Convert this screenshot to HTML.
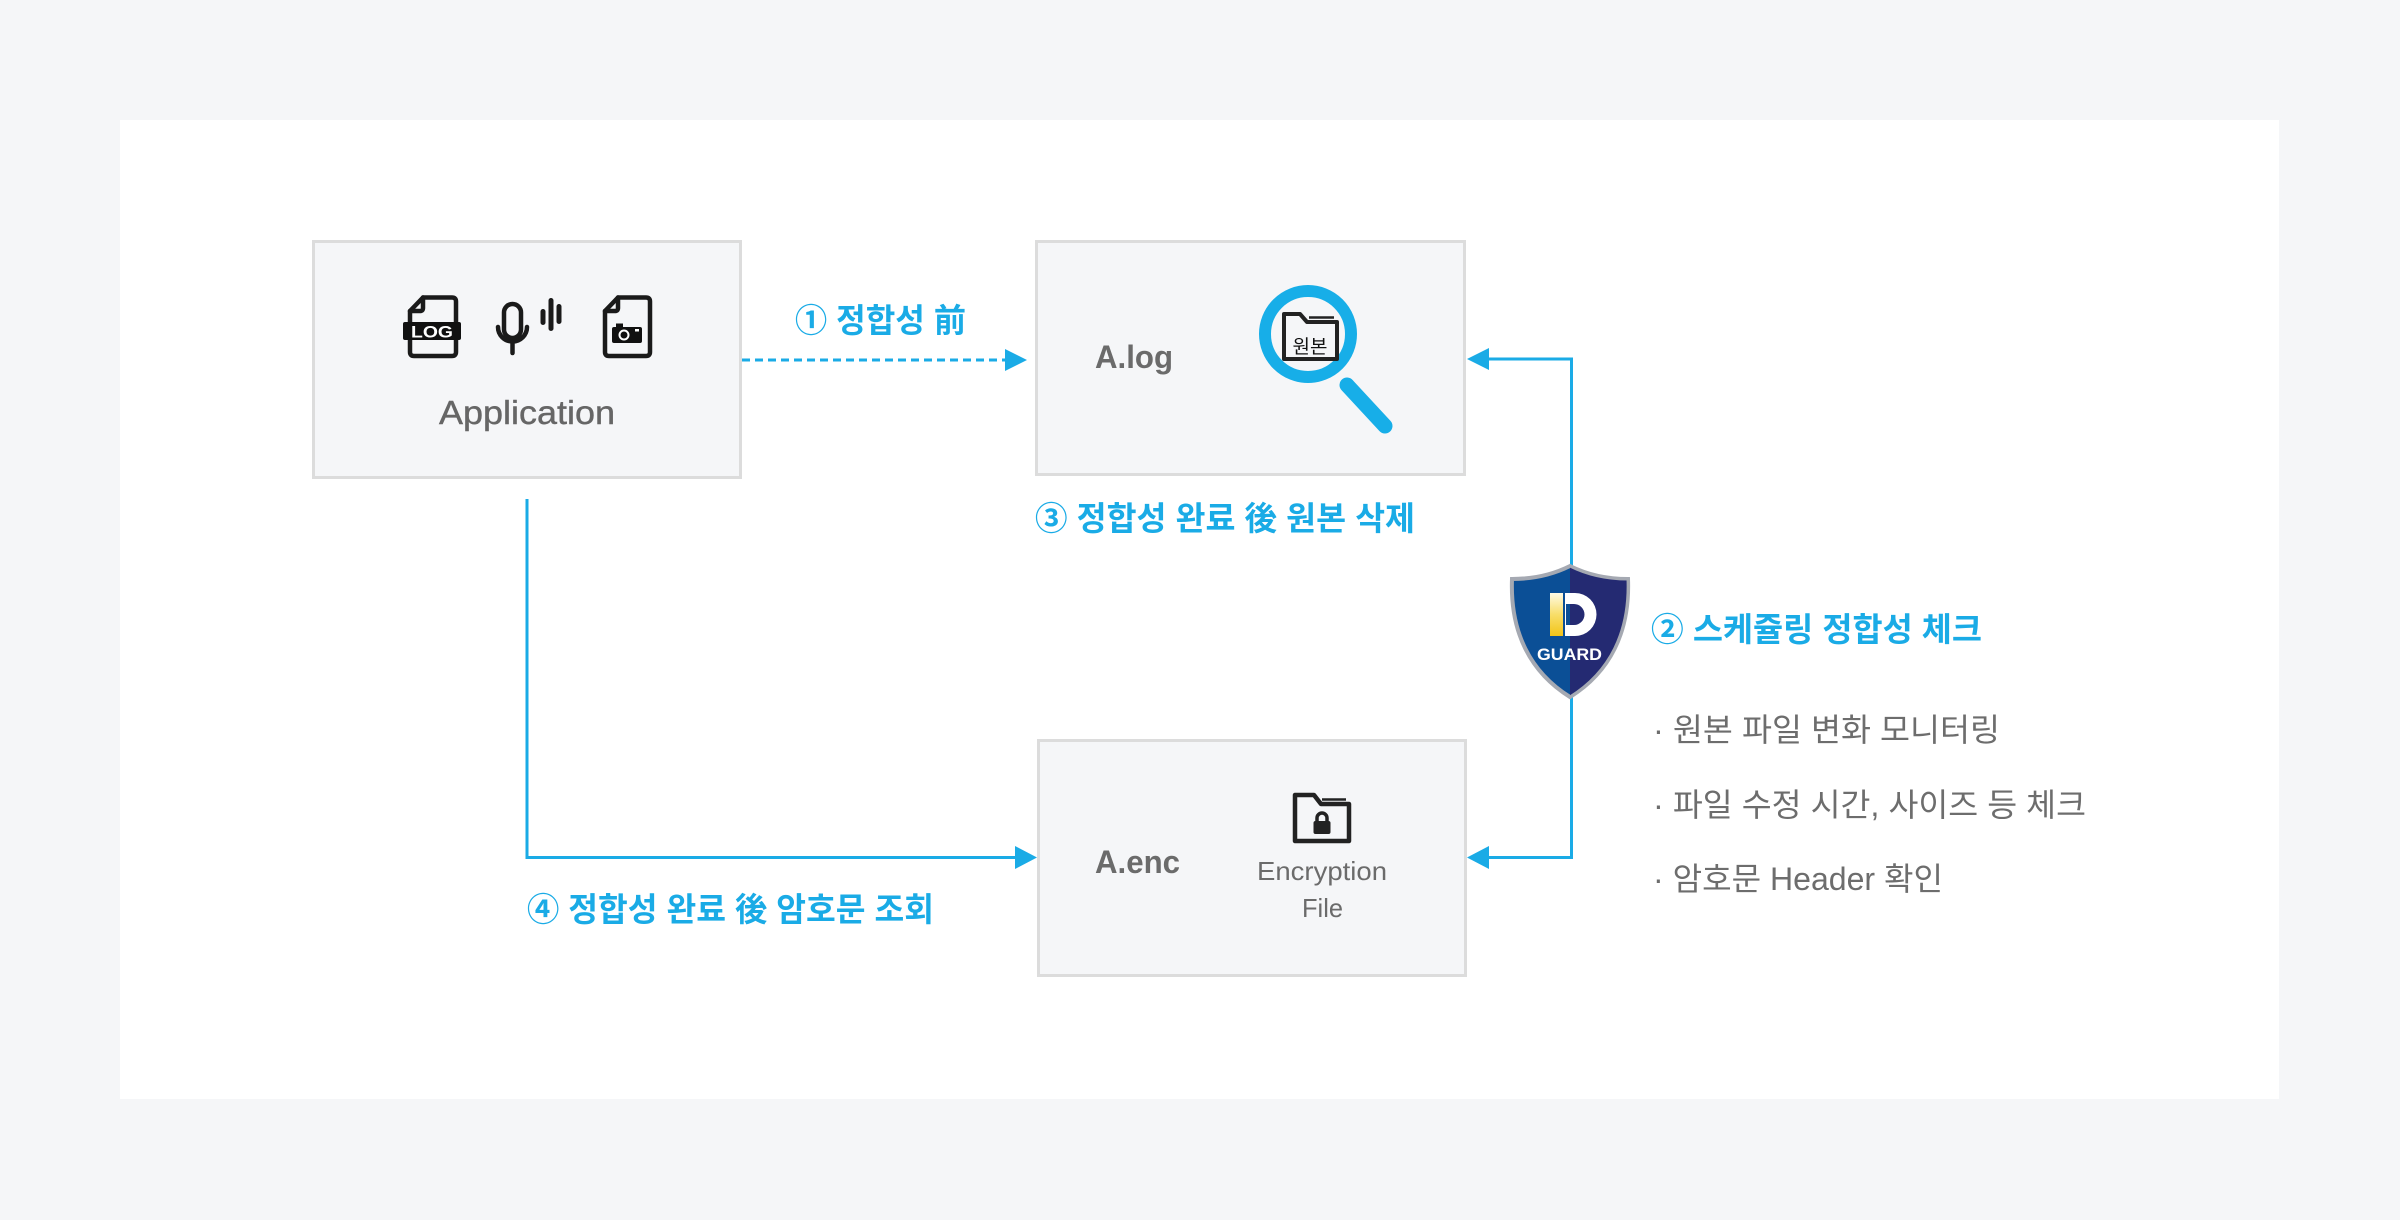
<!DOCTYPE html>
<html><head><meta charset="utf-8"><style>
html,body{margin:0;padding:0;background:#f5f6f8;}
svg{display:block;}
</style></head><body>
<svg width="2400" height="1220" viewBox="0 0 2400 1220" xmlns="http://www.w3.org/2000/svg">
<defs>
<linearGradient id="yg" x1="0" y1="0" x2="0" y2="1">
<stop offset="0" stop-color="#fffbe6"/><stop offset="0.5" stop-color="#f8de6a"/><stop offset="1" stop-color="#f2c418"/>
</linearGradient>
<clipPath id="shc"><path d="M1570,566 C1590,576 1610,579 1628,579 C1630,632 1610,672 1570,697 C1530,672 1510,632 1512,579 C1530,579 1550,576 1570,566Z"/></clipPath>
</defs>
<rect x="0" y="0" width="2400" height="1220" fill="#f5f6f8"/>
<rect x="120" y="120" width="2159" height="979" fill="#ffffff"/>

<!-- boxes -->
<rect x="313.5" y="241.5" width="427" height="236" fill="#f5f6f8" stroke="#dcdcdc" stroke-width="3"/>
<rect x="1036.5" y="241.5" width="428" height="233" fill="#f5f6f8" stroke="#dcdcdc" stroke-width="3"/>
<rect x="1038.5" y="740.5" width="427" height="235" fill="#f5f6f8" stroke="#dcdcdc" stroke-width="3"/>

<!-- connectors -->
<line x1="742" y1="360" x2="1008" y2="360" stroke="#1aabe6" stroke-width="3" stroke-dasharray="8 5"/>
<polygon points="1005,349 1027,360 1005,371" fill="#1aabe6"/>
<polyline points="527,499 527,857.5 1018,857.5" fill="none" stroke="#1aabe6" stroke-width="3"/>
<polygon points="1015,846 1037,857.5 1015,869" fill="#1aabe6"/>
<polyline points="1488,359 1571.5,359 1571.5,857.5 1488,857.5" fill="none" stroke="#1aabe6" stroke-width="3"/>
<polygon points="1489,348 1467,359 1489,370" fill="#1aabe6"/>
<polygon points="1489,846 1467,857.5 1489,869" fill="#1aabe6"/>

<!-- app icons -->
<g fill="none" stroke="#1a1a1a" stroke-width="4.5" stroke-linejoin="round" stroke-linecap="round">
<path d="M423,297.5 H452 Q456,297.5 456,301.5 V352 Q456,356 452,356 H414 Q410,356 410,352 V311 Z"/>
<path d="M410,311 H420 Q423,311 423,308 V297.5"/>
<path d="M618,297.5 H646 Q650,297.5 650,301.5 V352 Q650,356 646,356 H609 Q605,356 605,352 V311 Z"/>
<path d="M605,311 H615 Q618,311 618,308 V297.5"/>
<rect x="504" y="304" width="17" height="34" rx="8.5"/>
<path d="M498,327 a14.5,14.5 0 0 0 29,0"/>
<path d="M512.5,342 V353"/>
</g>
<rect x="403" y="322" width="58" height="18" rx="2" fill="#111"/>
<text x="432" y="337.5" font-family="Liberation Sans, sans-serif" font-weight="bold" font-size="17" fill="#fff" text-anchor="middle" textLength="42" lengthAdjust="spacingAndGlyphs">LOG</text>
<rect x="540.5" y="309" width="5" height="16" rx="2.5" fill="#1a1a1a"/>
<rect x="548.5" y="298" width="5" height="33" rx="2.5" fill="#1a1a1a"/>
<rect x="556.5" y="304" width="5" height="20" rx="2.5" fill="#1a1a1a"/>
<rect x="612" y="327" width="30" height="16" rx="2" fill="#111"/>
<rect x="616" y="323.5" width="7" height="5" fill="#111"/>
<circle cx="624" cy="335" r="4.5" fill="none" stroke="#fff" stroke-width="2"/>
<rect x="635" y="329" width="4" height="2.5" fill="#fff"/>

<text x="439" y="424" font-family="Liberation Sans, sans-serif" font-size="33" fill="#666666" stroke="#666666" stroke-width="0.4" textLength="176" lengthAdjust="spacingAndGlyphs">Application</text>

<!-- A.log box -->
<text x="1095" y="368" font-family="Liberation Sans, sans-serif" font-weight="bold" font-size="32" fill="#6b6b6b" textLength="78" lengthAdjust="spacingAndGlyphs">A.log</text>
<circle cx="1308" cy="334" r="43" fill="none" stroke="#17aee8" stroke-width="12"/>
<line x1="1347" y1="385" x2="1385" y2="426" stroke="#17aee8" stroke-width="15" stroke-linecap="round"/>
<g fill="none" stroke="#222" stroke-width="4" stroke-linejoin="round">
<path d="M1284,359 V314 H1300 L1307,322 H1337 V359 Z" fill="#f5f6f8"/>
<path d="M1309,317.5 H1334" stroke-width="2.5"/>
</g>
<text x="1310" y="353" font-family="Liberation Sans, 'Noto Sans CJK KR', sans-serif" font-size="19" fill="#111" text-anchor="middle">원본</text>

<!-- A.enc box -->
<text x="1095" y="873" font-family="Liberation Sans, sans-serif" font-weight="bold" font-size="32" fill="#6b6b6b" textLength="85" lengthAdjust="spacingAndGlyphs">A.enc</text>
<g fill="none" stroke="#222" stroke-width="4.5" stroke-linejoin="round">
<path d="M1295,841 V795 H1314 L1321,804 H1349 V841 Z"/>
<path d="M1322,799.5 H1346" stroke-width="2.5"/>
<path d="M1317,823 V818 a5,5 0 0 1 10,0 V823" stroke-width="3.5"/>
</g>
<rect x="1313.5" y="821" width="17" height="13" rx="2" fill="#222"/>
<text x="1257" y="880" font-family="Liberation Sans, sans-serif" font-size="26" fill="#6b6b6b" textLength="130" lengthAdjust="spacingAndGlyphs">Encryption</text>
<text x="1302" y="917" font-family="Liberation Sans, sans-serif" font-size="26" fill="#6b6b6b" textLength="41" lengthAdjust="spacingAndGlyphs">File</text>

<!-- shield -->
<path d="M1570,566 C1590,576 1610,579 1628,579 C1630,632 1610,672 1570,697 C1530,672 1510,632 1512,579 C1530,579 1550,576 1570,566Z" fill="#0b4f96" stroke="#a5a9b2" stroke-width="4"/>
<g clip-path="url(#shc)">
<rect x="1570" y="560" width="70" height="140" fill="#242a72"/>
</g>
<path d="M1570,566 C1590,576 1610,579 1628,579 C1630,632 1610,672 1570,697 C1530,672 1510,632 1512,579 C1530,579 1550,576 1570,566Z" fill="none" stroke="#a5a9b2" stroke-width="3"/>
<path fill="#ffffff" fill-rule="evenodd" d="M1565,593 H1575 A21.5,21.5 0 0 1 1575,636 H1565 Z M1566,604 H1574 A10.5,10.5 0 0 1 1574,625 H1566 Z"/>
<rect x="1550" y="593" width="13" height="43" fill="url(#yg)"/>
<text x="1537" y="660" font-family="Liberation Sans, sans-serif" font-weight="bold" font-size="17" fill="#fff" textLength="65" lengthAdjust="spacingAndGlyphs">GUARD</text>

<!-- blue labels -->
<g font-family="Liberation Sans, 'Noto Sans CJK KR', sans-serif" font-weight="bold" font-size="33" fill="#1aabe6">
<text x="795" y="332" textLength="171" lengthAdjust="spacingAndGlyphs">① 정합성 前</text>
<text x="1035" y="530" textLength="380" lengthAdjust="spacingAndGlyphs">③ 정합성 완료 後 원본 삭제</text>
<text x="527" y="921" textLength="407" lengthAdjust="spacingAndGlyphs">④ 정합성 완료 後 암호문 조회</text>
<text x="1651" y="641" textLength="331" lengthAdjust="spacingAndGlyphs">② 스케쥴링 정합성 체크</text>
</g>
<g font-family="Liberation Sans, 'Noto Sans CJK KR', sans-serif" font-size="32" fill="#6d6d6d">
<text x="1653" y="741" textLength="347" lengthAdjust="spacingAndGlyphs">· 원본 파일 변화 모니터링</text>
<text x="1653" y="816" textLength="433" lengthAdjust="spacingAndGlyphs">· 파일 수정 시간, 사이즈 등 체크</text>
<text x="1653" y="890" textLength="290" lengthAdjust="spacingAndGlyphs">· 암호문 Header 확인</text>
</g>
</svg>
</body></html>
